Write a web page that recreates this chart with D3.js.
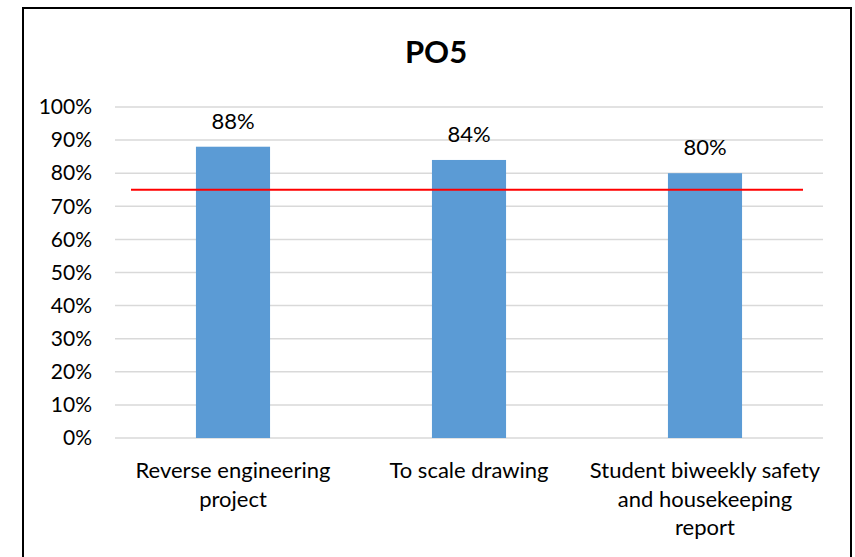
<!DOCTYPE html>
<html>
<head>
<meta charset="utf-8">
<script src="https://cdn.jsdelivr.net/npm/d3@7"></script>
<style>
  body { margin: 0; background: #fff; }
  text { font-family: Lato, "Open Sans", sans-serif; }
</style>
</head>
<body>
<div id="chart"></div>
<script>
const title = "PO5"
const categories = ["Reverse engineering project", "To scale drawing", "Student biweekly safety and housekeeping report"]
const values = [0.88, 0.84, 0.80]
const target = 0.75
const yTicks = [0, 0.1, 0.2, 0.3, 0.4, 0.5, 0.6, 0.7, 0.8, 0.9, 1.0]

const W = 855, H = 557
const plot = { left: 115, right: 823, top: 107, bottom: 438 }

var svg = d3.select("#chart")
    .append("svg")
        .attr("width", W)
        .attr("height", H)
        .style("display", "block")

// outer frame (bottom edge runs past the picture)
svg.append("rect")
    .attr("x", 23)
    .attr("y", 8)
    .attr("width", 828)
    .attr("height", 560)
    .attr("fill", "#fff")
    .attr("stroke", "#000")
    .attr("stroke-width", 2)

svg.append("text")
    .attr("x", 436)
    .attr("y", 63)
    .attr("text-anchor", "middle")
    .style("font-size", "31px")
    .style("font-weight", "bold")
    .attr("fill", "#000")
    .text(title)

var x = d3.scaleBand()
    .domain(categories)
    .range([plot.left, plot.right])
    .paddingInner(0.686)
    .paddingOuter(0.343)

var y = d3.scaleLinear()
    .domain([0, 1])
    .range([plot.bottom, plot.top])

// gridlines
svg.append("g")
    .selectAll("line")
    .data(yTicks)
    .join("line")
        .attr("x1", plot.left)
        .attr("x2", plot.right)
        .attr("y1", d => y(d))
        .attr("y2", d => y(d))
        .attr("stroke", "#d9d9d9")
        .attr("stroke-width", 1.5)

// y axis labels
svg.append("g")
    .attr("transform", "translate(" + (plot.left - 23) + ",0)")
    .call(d3.axisLeft(y).tickValues(yTicks).tickFormat(d3.format(".0%")).tickSize(0).tickPadding(0))
    .call(g => g.select(".domain").remove())
    .selectAll("text")
        .style("font-size", "21px")
        .style("font-family", "Lato, 'Open Sans', sans-serif")
        .attr("fill", "#000")

// bars
svg.append("g")
    .selectAll("rect")
    .data(values)
    .join("rect")
        .attr("x", (d, i) => x(categories[i]))
        .attr("y", d => y(d))
        .attr("width", x.bandwidth())
        .attr("height", d => y(0) - y(d))
        .attr("fill", "#5b9bd5")

// value labels
svg.append("g")
    .selectAll("text")
    .data(values)
    .join("text")
        .attr("x", (d, i) => x(categories[i]) + x.bandwidth() / 2)
        .attr("y", d => y(d) - 18)
        .attr("text-anchor", "middle")
        .style("font-size", "22px")
        .attr("fill", "#000")
        .text(d => d3.format(".0%")(d))

// target line
var inset = 16
svg.append("line")
    .attr("x1", x.range()[0] + inset)
    .attr("x2", x.range()[1] - inset - 4)
    .attr("y1", y(target))
    .attr("y2", y(target))
    .attr("stroke", "#ff0000")
    .attr("stroke-width", 2)

// category labels, wrapped to the band step
var catLabels = svg.append("g")
    .selectAll("text")
    .data(categories)
    .join("text")
        .attr("x", d => x(d) + x.bandwidth() / 2)
        .attr("y", 478)
        .attr("text-anchor", "middle")
        .style("font-size", "22px")
        .attr("fill", "#000")

catLabels.each(function(d) {
    var el = d3.select(this)
    var cx = el.attr("x")
    var words = d.split(" ")
    var line = []
    var tspan = el.append("tspan").attr("x", cx).attr("dy", 0)
    words.forEach(function(w) {
        line.push(w)
        tspan.text(line.join(" "))
        if (tspan.node().getComputedTextLength() > x.step() - 4 && line.length > 1) {
            line.pop()
            tspan.text(line.join(" "))
            line = [w]
            tspan = el.append("tspan").attr("x", cx).attr("dy", "28.5px").text(w)
        }
    })
})
</script>
</body>
</html>
